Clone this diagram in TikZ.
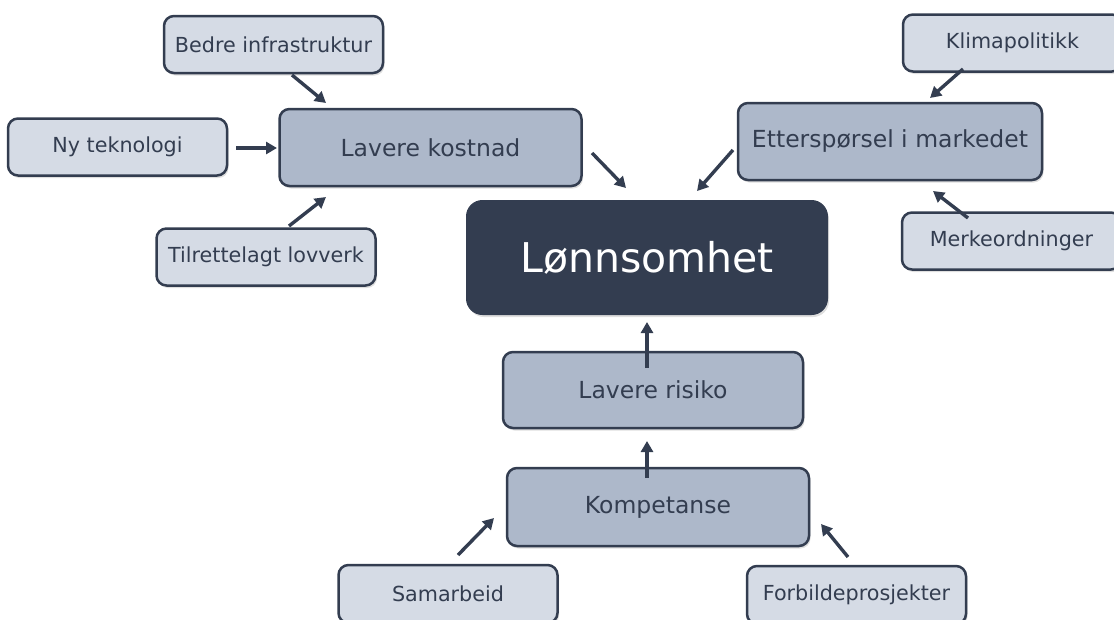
\documentclass[tikz,border=0pt]{standalone}
\usepackage{fontspec}
\setmainfont{DejaVu Sans}
\usetikzlibrary{arrows.meta,shadows}
\definecolor{dk}{HTML}{333D50}
\definecolor{mid}{HTML}{ADB8CA}
\definecolor{lt}{HTML}{D5DBE5}
\tikzset{
  base/.style={draw=dk, line width=2.5pt, rounded corners=10pt, text=dk, align=center,
    inner sep=0pt, drop shadow={opacity=0.25, shadow xshift=1.5pt, shadow yshift=-2.5pt}},
  small/.style={base, fill=lt, minimum width=219pt, minimum height=57pt, font=\fontsize{20.7}{24}\selectfont},
  medium/.style={base, fill=mid, minimum width=302pt, minimum height=77pt, font=\fontsize{23.5}{28}\selectfont},
  main/.style={draw=dk, fill=dk, line width=1pt, rounded corners=16pt, text=white,
    minimum width=361pt, minimum height=114pt, font=\fontsize{41}{48}\selectfont,
    drop shadow={opacity=0.25, shadow xshift=1.5pt, shadow yshift=-2.5pt}},
  arr/.style={draw=dk, line width=3.4pt, -{Triangle[length=11pt,width=12pt]}}
}
\begin{document}
\begin{tikzpicture}[x=1pt,y=-1pt]
\useasboundingbox (0,0) rectangle (1114,619);
% nodes
\node[main]   (lon)  at (647,257.5) {Lønnsomhet};
\node[medium] (kost) at (430.5,147.5) {Lavere kostnad};
\node[medium, minimum width=304pt] (ett) at (890,141.5) {Etterspørsel i markedet};
\node[medium, minimum width=300pt, minimum height=76pt] (ris) at (653,390) {Lavere risiko};
\node[medium, minimum height=78pt] (komp) at (658,507) {Kompetanse};
\node[small]  (bedre) at (273.5,44.5) {Bedre infrastruktur};
\node[small]  (ny)    at (117.5,147) {Ny teknologi};
\node[small]  (til)   at (266,257) {Tilrettelagt lovverk};
\node[small]  (klima) at (1012.5,43) {Klimapolitikk};
\node[small]  (merke) at (1011.5,241) {Merkeordninger};
\node[small, minimum height=58pt] (sam)  at (448,594) {Samarbeid};
\node[small, minimum height=58pt] (forb) at (856.5,595) {Forbildeprosjekter};
% arrow end points
\coordinate (bedreS) at (292,75);  \coordinate (bedreE) at (326,103);
\coordinate (nyS)    at (236,148); \coordinate (nyE)    at (277,148);
\coordinate (tilS)   at (289,226); \coordinate (tilE)   at (326,197);
\coordinate (kostS)  at (592,153); \coordinate (kostE)  at (626,188);
\coordinate (ettS)   at (733,150); \coordinate (ettE)   at (697,191);
\coordinate (klimaS) at (963,69);  \coordinate (klimaE) at (930,98);
\coordinate (merkeS) at (968,218); \coordinate (merkeE) at (933,191);
\coordinate (risS)   at (647,368); \coordinate (risE)   at (647,322);
\coordinate (kompS)  at (647,478); \coordinate (kompE)  at (647,441);
\coordinate (samS)   at (458,555); \coordinate (samE)   at (494,518);
\coordinate (forbS)  at (848,557); \coordinate (forbE)  at (821,524);
% connectors
\draw[arr] (bedreS) -- (bedreE);
\draw[arr] (nyS) -- (nyE);
\draw[arr] (tilS) -- (tilE);
\draw[arr] (kostS) -- (kostE);
\draw[arr] (ettS) -- (ettE);
\draw[arr] (klimaS) -- (klimaE);
\draw[arr] (merkeS) -- (merkeE);
\draw[arr] (risS) -- (risE);
\draw[arr] (kompS) -- (kompE);
\draw[arr] (samS) -- (samE);
\draw[arr] (forbS) -- (forbE);
\end{tikzpicture}
\end{document}
